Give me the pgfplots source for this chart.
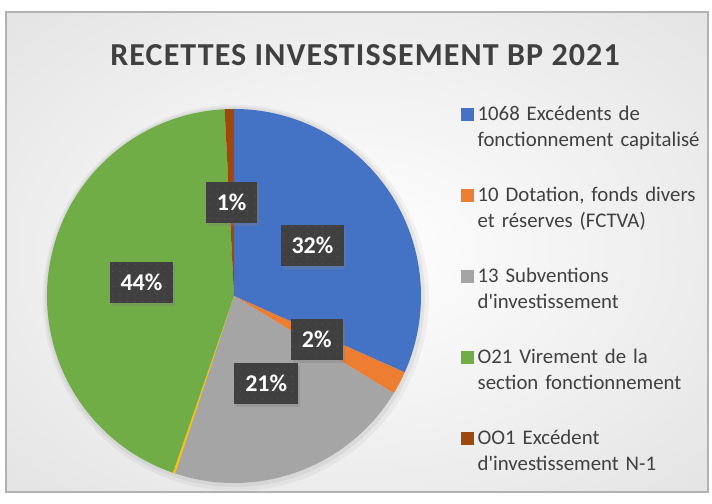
\documentclass[border=0pt]{standalone}
\usepackage{fontspec}
\setmainfont{Carlito}
\usepackage{pgfplots}
\pgfplotsset{compat=1.18}
\usepackage{pgfplotstable}
\usetikzlibrary{shadows,patterns.meta}

\definecolor{c1}{HTML}{4472C4}
\definecolor{c2}{HTML}{ED7D31}
\definecolor{c3}{HTML}{A5A5A5}
\definecolor{c4}{HTML}{FFC000}
\definecolor{c5}{HTML}{70AD47}
\definecolor{c6}{HTML}{9E480E}
\definecolor{txt}{HTML}{404040}
\definecolor{lblbg}{HTML}{404040}
\definecolor{dotc}{HTML}{585858}

\pgfdeclareradialshading{bgshade}{\pgfpoint{0bp}{0bp}}{color(0bp)=(white); color(50bp)=(black!15); color(72bp)=(black!22)}

% share of each item, in %
\pgfplotstableread{
val col
31.7 c1
2.0 c2
21.4 c3
0.2 c4
43.9 c5
0.8 c6
}\piedata

\begin{document}
\begin{tikzpicture}[x=1bp,y=1bp,
  lbl/.style={fill=lblbg, text=white, font=\fontsize{24bp}{28bp}\selectfont\bfseries,
    inner xsep=11bp, inner ysep=0pt, minimum height=41bp,
    drop shadow={shadow xshift=2bp, shadow yshift=-3bp, opacity=0.35},
    postaction={pattern={Dots[distance=7.5bp,radius=0.7bp]}, pattern color=dotc}}]
\useasboundingbox (0,0) rectangle (712,504);
\fill[white] (0,0) rectangle (712,504);
\shade[shading=bgshade] (6,12) rectangle (708,492);
\draw[black!30, line width=1.2bp] (6,12) rectangle (708,492);

\node[font=\fontsize{32bp}{38bp}\selectfont\bfseries\addfontfeature{LetterSpace=3.5}, text=txt, anchor=base]
  at (365,438.5) {RECETTES INVESTISSEMENT BP 2021};

\pgfplotstablegetrowsof{\piedata}
\pgfmathtruncatemacro\nlast{\pgfplotsretval-1}
\def\slices{}\def\labels{}\def\cum{0}
\pgfplotsforeachungrouped \i in {0,...,\nlast}{%
  \pgfplotstablegetelem{\i}{val}\of\piedata\let\sval\pgfplotsretval
  \pgfplotstablegetelem{\i}{col}\of\piedata\let\scol\pgfplotsretval
  \pgfmathsetmacro\sa{90-3.6*\cum}%
  \pgfmathsetmacro\ea{90-3.6*(\cum+\sval)}%
  \pgfmathsetmacro\ma{(\sa+\ea)/2}%
  \pgfmathtruncatemacro\pct{round(\sval)}%
  \edef\slices{\unexpanded\expandafter{\slices}\noexpand\fill[\scol] (axis cs:0,0) -- (axis cs:{cos(\sa)},{sin(\sa)}) arc[start angle=\sa, end angle=\ea, radius=187bp] -- cycle;}%
  \ifnum\pct>0
    \edef\labels{\unexpanded\expandafter{\labels}\noexpand\node[lbl] at (axis cs:{0.5*cos(\ma)},{0.5*sin(\ma)}) {\pct\noexpand\%};}%
  \fi
  \pgfmathsetmacro\cum{\cum+\sval}%
}

\begin{axis}[
  at={(234bp,208bp)}, anchor=center,
  x=187bp, y=187bp,
  xmin=-1, xmax=1, ymin=-1, ymax=1,
  hide axis, clip=false,
  legend image code/.code={\fill[#1] (0bp,1bp) rectangle (11.5bp,12.5bp);},
  legend style={draw=none, fill=none, inner sep=0pt,
    at={(1.107,1.009)}, anchor=north west,
    row sep=35.5bp, column sep=4.5bp,
    font=\fontsize{20.8bp}{25.5bp}\selectfont, text=txt,
    nodes={inner sep=0pt, text width=240bp, align=left, text height=15bp, text depth=30.5bp},
    cells={anchor=base west}},
]
% soft shadow round the pie
\fill[black, opacity=0.04] (axis cs:0.01,-0.01) circle[radius=193bp];
\fill[black, opacity=0.05] (axis cs:0.005,-0.005) circle[radius=190bp];
\slices
\labels
\addlegendimage{c1}\addlegendentry{1068 Excédents de\\fonctionnement capitalisé}
\addlegendimage{c2}\addlegendentry{10 Dotation, fonds divers\\et réserves (FCTVA)}
\addlegendimage{c3}\addlegendentry{13 Subventions\\d\textquotesingle investissement}
\addlegendimage{c5}\addlegendentry{O21 Virement de la\\section fonctionnement}
\addlegendimage{c6}\addlegendentry{OO1 Excédent\\d\textquotesingle investissement N-1}
\end{axis}
\end{tikzpicture}
\end{document}
